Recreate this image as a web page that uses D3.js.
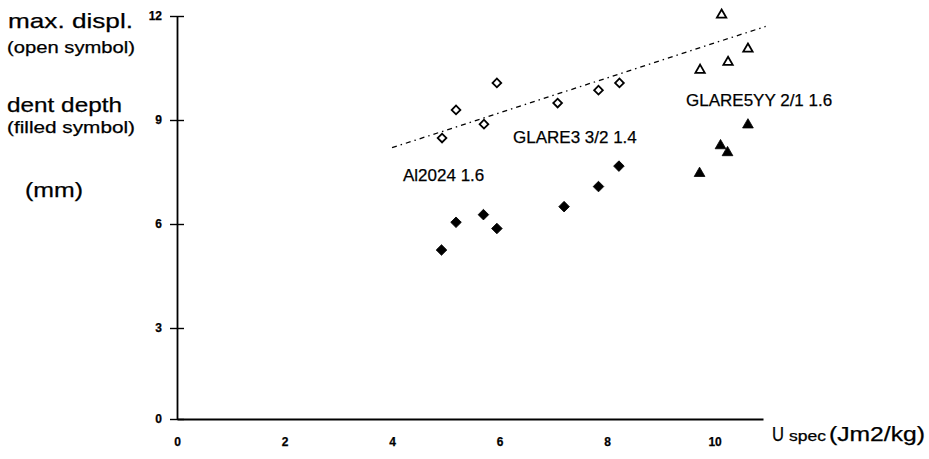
<!DOCTYPE html>
<html>
<head>
<meta charset="utf-8">
<script src="https://cdn.jsdelivr.net/npm/d3@7"></script>
<style>
  body { margin: 0; background: #fff; }
  text { font-family: "Liberation Sans", Arial, sans-serif; fill: #000; stroke: #000; stroke-width: 0.25px; }
</style>
</head>
<body>
<div id="chart-area"></div>
<script>
// readings (U spec in Jm2/kg, displacement / dent in mm)
var alU       = [4.93, 5.19, 5.71, 5.95];
var alDispl   = [8.48, 9.29, 8.88, 10.07];
var alDentU   = [4.92, 5.19, 5.70, 5.95];
var alDent    = [5.25, 6.05, 6.27, 5.87];

var g3U       = [7.08, 7.84, 8.23];
var g3Displ   = [9.49, 9.86, 10.07];
var g3DentU   = [7.20, 7.84, 8.22];
var g3Dent    = [6.50, 7.08, 7.67];

var g5U       = [9.73, 10.13, 10.25, 10.62];
var g5Displ   = [10.44, 12.03, 10.67, 11.05];
var g5DentU   = [9.72, 10.11, 10.24, 10.62];
var g5Dent    = [7.46, 8.26, 8.06, 8.86];

var trendU    = [4.0, 10.95];
var trendVal  = [8.2, 11.7];

var xTicks = [0, 2, 4, 6, 8, 10];
var yTicks = [0, 3, 6, 9, 12];
var materialLabels = ["Al2024 1.6", "GLARE3 3/2 1.4", "GLARE5YY 2/1 1.6"];

var svg = d3.select("#chart-area").append("svg")
    .attr("width", 929)
    .attr("height", 459);

var x = d3.scaleLinear().domain([0, 10.9]).range([177, 763]);
// the scanned axis is not quite uniform near the origin
var y = d3.scaleLinear().domain([0, 3, 12]).range([419, 328, 16]);

// y axis with crossing ticks
var yAxis = svg.append("g")
    .attr("transform", "translate(177,0)")
    .call(d3.axisLeft(y).tickValues(yTicks).tickSizeInner(7).tickSizeOuter(0).tickPadding(8));
yAxis.selectAll(".tick line").attr("x1", 7).attr("stroke-width", 1.4);
yAxis.select(".domain").attr("stroke-width", 1.8);
yAxis.selectAll(".tick text")
    .style("font-size", "12px").style("font-weight", "bold")
    .attr("dy", "0.32em");

var xAxis = svg.append("g")
    .attr("transform", "translate(0,419)")
    .call(d3.axisBottom(x).tickValues(xTicks).tickSize(0).tickPadding(18));
xAxis.select(".domain").attr("stroke-width", 1.8);
xAxis.selectAll(".tick text")
    .style("font-size", "12px").style("font-weight", "bold");

// trend line through the max. displacement points
var trend = trendU.map(function(d, i){ return [d, trendVal[i]]; });
svg.append("path")
    .datum(trend)
    .attr("fill", "none")
    .attr("stroke", "#000")
    .attr("stroke-width", 1.3)
    .attr("stroke-dasharray", "5,4,1.5,4")
    .attr("d", d3.line().x(function(d){ return x(d[0]); }).y(function(d){ return y(d[1]); }));

function zip(a, b){
    return a.map(function(d, i){ return [d, b[i]]; });
}

var diamond = d3.symbol().type(d3.symbolSquare);
var triangle = d3.symbol().type(d3.symbolTriangle);

function drawPoints(pts, shape, size, filled, rotate){
    svg.append("g").selectAll("path")
        .data(pts)
        .enter()
        .append("path")
        .attr("d", shape.size(size)())
        .attr("transform", function(d){
            return "translate(" + x(d[0]) + "," + y(d[1]) + ")" + (rotate ? " rotate(45)" : "");
        })
        .attr("fill", filled ? "#000" : "#fff")
        .attr("stroke", "#000")
        .attr("stroke-width", filled ? 0.8 : 1.8);
}

drawPoints(zip(alU, alDispl).concat(zip(g3U, g3Displ)), diamond, 38, false, true);
drawPoints(zip(alDentU, alDent).concat(zip(g3DentU, g3Dent)), diamond, 56, true, true);
drawPoints(zip(g5U, g5Displ), triangle, 38, false, false);
drawPoints(zip(g5DentU, g5Dent), triangle, 50, true, false);

// material labels
var labelPos = [[403, 181], [513, 143], [686, 106]];
svg.selectAll(".mat")
    .data(materialLabels)
    .enter()
    .append("text")
    .attr("class", "mat")
    .attr("x", function(d, i){ return labelPos[i][0]; })
    .attr("y", function(d, i){ return labelPos[i][1]; })
    .style("font-size", "17px")
    .text(function(d){ return d; });

// y title block on the left
var leftTitles = [
    {t: "max. displ.", x: 8, y: 28, s: 21, w: 125},
    {t: "(open symbol)", x: 7, y: 53, s: 16, w: 128},
    {t: "dent depth", x: 7, y: 112, s: 21, w: 115},
    {t: "(filled symbol)", x: 7, y: 133, s: 16, w: 128},
    {t: "(mm)", x: 25, y: 197, s: 21, w: 58}
];
leftTitles.forEach(function(d){
    svg.append("text")
        .attr("x", d.x).attr("y", d.y)
        .attr("textLength", d.w)
        .attr("lengthAdjust", "spacingAndGlyphs")
        .style("font-size", d.s + "px")
        .text(d.t);
});

// x axis title
svg.append("text").attr("x", 772).attr("y", 441).style("font-size", "20px")
    .attr("textLength", 12).attr("lengthAdjust", "spacingAndGlyphs").text("U");
svg.append("text").attr("x", 789).attr("y", 441).style("font-size", "14px")
    .attr("textLength", 37).attr("lengthAdjust", "spacingAndGlyphs").text("spec");
svg.append("text").attr("x", 829).attr("y", 441).style("font-size", "20px")
    .attr("textLength", 96).attr("lengthAdjust", "spacingAndGlyphs").text("(Jm2/kg)");
</script>
</body>
</html>
